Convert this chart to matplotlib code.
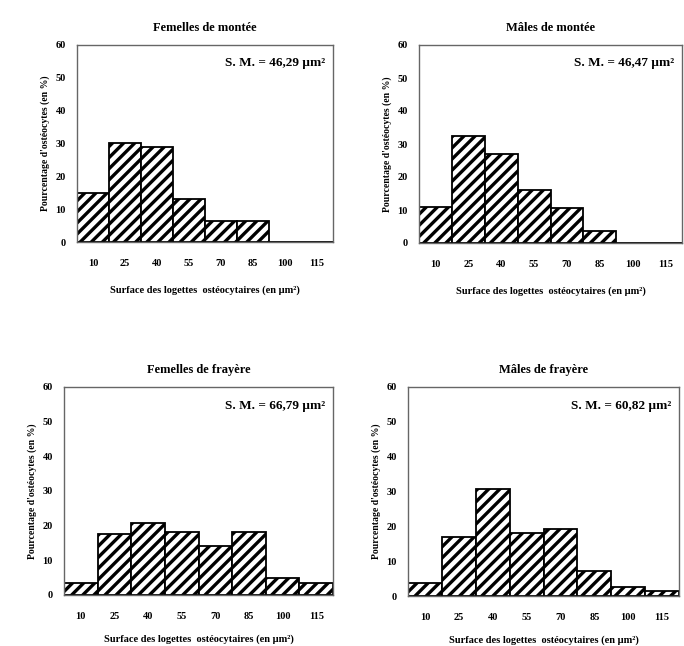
import numpy as np
import matplotlib
matplotlib.use("Agg")
import matplotlib.pyplot as plt

plt.rcParams['font.family'] = ['Liberation Serif', 'DejaVu Serif']
plt.rcParams['font.weight'] = 'bold'
plt.rcParams['hatch.linewidth'] = 2.4

# classes de surface (µm²)
classes = ['10', '25', '40', '55', '70', '85', '100', '115']

# pourcentages
fem_montee = [15, 30.2, 29, 13, 6.5, 6.5, 0, 0]
mal_montee = [11, 32.5, 27, 16, 10.5, 3.5, 0, 0]
fem_frayere = [3.5, 17.5, 20.8, 18.2, 14, 18.3, 5, 3.5]
mal_frayere = [3.8, 17, 30.8, 18.2, 19.3, 7.3, 2.5, 1.5]

titles = ['Femelles de montée', 'Mâles de montée', 'Femelles de frayère', 'Mâles de frayère']
sm_text = ['S. M. = 46,29 µm²', 'S. M. = 46,47 µm²',
           'S. M. = 66,79 µm²', 'S. M. = 60,82 µm²']
series = [fem_montee, mal_montee, fem_frayere, mal_frayere]

W, H = 684, 646
# positions des axes en pixels : gauche, bas (depuis le haut), largeur, hauteur
boxes = [(77, 242, 256, 197), (419, 243, 263, 198),
         (64, 595, 269, 208), (408, 596, 271, 209)]
xlab_pad = [13, 13, 10, 10]

fig = plt.figure(figsize=(6.84, 6.46), dpi=100)

for k in range(4):
    l, b, w, h = boxes[k]
    ax = fig.add_axes([l / W, 1 - b / H, w / W, h / H])
    x = np.arange(len(classes))
    ax.bar(x, series[k], width=1.0, color='white', edgecolor='black',
           hatch='///', linewidth=1.3)
    ax.set_xlim(-0.5, len(classes) - 0.5)
    ax.set_ylim(0, 60)
    ax.set_yticks(range(0, 61, 10))
    ax.set_xticks(x)
    ax.set_xticklabels(classes)
    ax.tick_params(axis='x', length=0, pad=12, labelsize=7.5)
    ax.tick_params(axis='y', length=0, pad=8, labelsize=7.5)
    for s in ax.spines.values():
        s.set_color('#666666')
        s.set_linewidth(1.0)
    ax.set_title(titles[k], fontsize=9, fontweight='bold', pad=10)
    ax.set_xlabel('Surface des logettes  ostéocytaires (en µm²)', fontsize=7.5,
                  fontweight='bold', labelpad=xlab_pad[k])
    ax.set_ylabel("Pourcentage d'ostéocytes (en %)", fontsize=7,
                  fontweight='bold', labelpad=4)
    ax.text(0.97, 0.91, sm_text[k], transform=ax.transAxes, ha='right', va='center',
            fontsize=9.5, fontweight='bold')

fig.savefig('out.png', dpi=100)
